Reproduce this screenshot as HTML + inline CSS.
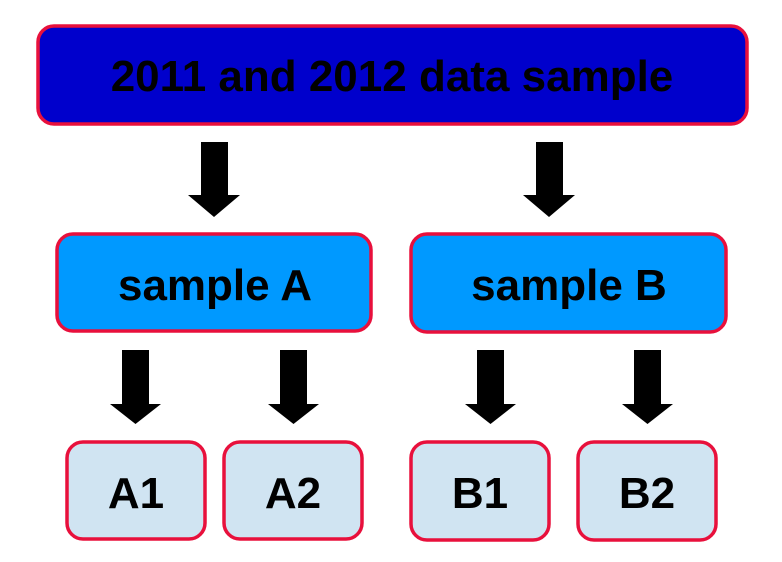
<!DOCTYPE html>
<html><head><style>body{margin:0;background:#fff}svg{display:block}</style></head>
<body>
<svg width="782" height="562" xmlns="http://www.w3.org/2000/svg" font-family="Liberation Sans, sans-serif" font-weight="bold" text-anchor="middle">
<g stroke="#e8103c" stroke-width="3.5">
<rect x="38" y="26" width="709" height="98" rx="16" fill="#0000cc"/>
<rect x="57" y="234" width="314" height="97" rx="16" fill="#0099ff"/>
<rect x="411" y="234" width="315" height="98" rx="16" fill="#0099ff"/>
<rect x="67" y="442" width="138" height="97" rx="16" fill="#d0e4f2"/>
<rect x="224" y="442" width="138" height="97" rx="16" fill="#d0e4f2"/>
<rect x="411" y="442" width="138" height="98" rx="16" fill="#d0e4f2"/>
<rect x="578" y="442" width="138" height="98" rx="16" fill="#d0e4f2"/>
</g>
<g fill="#000">
<path d="M201,142h27v53h12l-26,22l-26,-22h13z"/>
<path d="M536,142h27v53h12l-26,22l-26,-22h13z"/>
<path d="M122,350h27v54h12l-25.5,20l-25.5,-20h12z"/>
<path d="M280,350h27v54h12l-25.5,20l-25.5,-20h12z"/>
<path d="M477,350h27v54h12l-25.5,20l-25.5,-20h12z"/>
<path d="M634,350h27v54h12l-25.5,20l-25.5,-20h12z"/>
<text x="392" y="91" font-size="44">2011 and 2012 data sample</text>
<text x="215" y="300" font-size="44">sample A</text>
<text x="569" y="300" font-size="44">sample B</text>
<text x="136" y="508" font-size="44">A1</text>
<text x="293" y="508" font-size="44">A2</text>
<text x="480" y="508" font-size="44">B1</text>
<text x="647" y="508" font-size="44">B2</text>
</g>
</svg>
</body></html>
